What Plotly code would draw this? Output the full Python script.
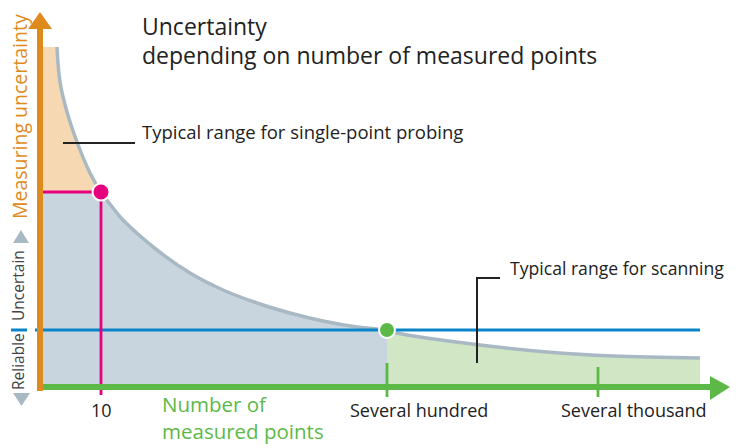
import plotly.graph_objects as go

# ---- data (chart units: x = position along "number of measured points", y = uncertainty level)
curve_x = [17, 20, 27, 37, 50, 61, 77, 83, 117, 150, 183, 217, 250, 283, 317, 347, 357, 440, 507, 573, 660]
curve_y = [340, 305, 275, 245, 214, 195, 174, 167, 137, 114, 97, 84, 74, 66, 60, 57, 54, 42, 35, 31, 29]

probe_point = (61, 195)      # "10" points
scan_point = (347, 57)       # "Several hundred"
reliable_level = 57
tick_positions = [61, 347, 558]
tick_labels = ["10", "Several hundred", "Several thousand"]

ORANGE = "#df8a1d"
GREEN = "#5cb947"
PINK = "#e6007e"
BLUE = "#0a84c8"
CURVE = "#a9b9c4"
FILL_BLUE = "#c9d5de"
FILL_ORANGE = "#f6d8b2"
FILL_GREEN = "#d0e6c5"
TEXT = "#222222"
FONT = "Open Sans"

i_probe = curve_x.index(probe_point[0])
i_scan = curve_x.index(scan_point[0])

fig = go.Figure()

# orange region (single-point probing, above the probe level)
fig.add_shape(type="rect", x0=2, x1=curve_x[0] + 1, y0=probe_point[1], y1=curve_y[0],
              fillcolor=FILL_ORANGE, line_width=0, layer="below")
fig.add_trace(go.Scatter(x=curve_x[:i_probe + 1], y=curve_y[:i_probe + 1], mode="lines",
                         line=dict(width=0, shape="spline"), fill="tozeroy",
                         fillcolor=FILL_ORANGE, hoverinfo="skip"))
# blue-grey region
fig.add_trace(go.Scatter(x=[2, probe_point[0], probe_point[0], 2], y=[0, 0, probe_point[1], probe_point[1]],
                         mode="lines", line=dict(width=0), fill="toself",
                         fillcolor=FILL_BLUE, hoverinfo="skip"))
fig.add_trace(go.Scatter(x=curve_x[i_probe:i_scan + 1], y=curve_y[i_probe:i_scan + 1], mode="lines",
                         line=dict(width=0, shape="spline"), fill="tozeroy",
                         fillcolor=FILL_BLUE, hoverinfo="skip"))
# green region (scanning)
fig.add_trace(go.Scatter(x=curve_x[i_scan:], y=curve_y[i_scan:], mode="lines",
                         line=dict(width=0, shape="spline"), fill="tozeroy",
                         fillcolor=FILL_GREEN, hoverinfo="skip"))

# curve
fig.add_trace(go.Scatter(x=curve_x, y=curve_y, mode="lines",
                         line=dict(color=CURVE, width=3.5, shape="spline"), hoverinfo="skip"))

# reliable level line
fig.add_trace(go.Scatter(x=[-5, 660], y=[reliable_level, reliable_level], mode="lines",
                         line=dict(color=BLUE, width=2.8), hoverinfo="skip"))

# pink guide lines
fig.add_trace(go.Scatter(x=[0, probe_point[0], probe_point[0]], y=[probe_point[1], probe_point[1], -8],
                         mode="lines", line=dict(color=PINK, width=2.8), hoverinfo="skip"))

# green ticks
fig.add_trace(go.Scatter(x=[tick_positions[1], tick_positions[1]], y=[24, -10], mode="lines",
                         line=dict(color=GREEN, width=2.8), hoverinfo="skip"))
fig.add_trace(go.Scatter(x=[tick_positions[2], tick_positions[2]], y=[20, -10], mode="lines",
                         line=dict(color=GREEN, width=2.8), hoverinfo="skip"))

# axes
fig.add_trace(go.Scatter(x=[0, 0], y=[-4, 360], mode="lines", line=dict(color=ORANGE, width=6),
                         hoverinfo="skip"))
fig.add_trace(go.Scatter(x=[-12, 12, 0, -12], y=[358, 358, 375, 358], mode="lines", fill="toself",
                         fillcolor=ORANGE, line=dict(width=0), hoverinfo="skip"))
fig.add_trace(go.Scatter(x=[3, 672], y=[0, 0], mode="lines", line=dict(color=GREEN, width=6),
                         hoverinfo="skip"))
fig.add_trace(go.Scatter(x=[670, 670, 690, 670], y=[11, -13, 0, 11], mode="lines", fill="toself",
                         fillcolor=GREEN, line=dict(width=0), hoverinfo="skip"))

# markers
fig.add_trace(go.Scatter(x=[probe_point[0]], y=[probe_point[1]], mode="markers",
                         marker=dict(color=PINK, size=17, line=dict(color="white", width=2)),
                         hoverinfo="skip"))
fig.add_trace(go.Scatter(x=[scan_point[0]], y=[scan_point[1]], mode="markers",
                         marker=dict(color=GREEN, size=16, line=dict(color="white", width=2)),
                         hoverinfo="skip"))

# leader lines
fig.add_trace(go.Scatter(x=[23, 95], y=[244, 244], mode="lines", line=dict(color=TEXT, width=2),
                         hoverinfo="skip"))
fig.add_trace(go.Scatter(x=[460, 437, 437], y=[109, 109, 24], mode="lines", line=dict(color=TEXT, width=2),
                         hoverinfo="skip"))

# left-side scale: grey triangles and blue mark
fig.add_trace(go.Scatter(x=[-27, -11, -19, -27], y=[144, 144, 157, 144], mode="lines", fill="toself",
                         fillcolor=CURVE, line=dict(width=0), hoverinfo="skip"))
fig.add_trace(go.Scatter(x=[-27, -10, -18.5, -27], y=[-6, -6, -19, -6], mode="lines", fill="toself",
                         fillcolor=CURVE, line=dict(width=0), hoverinfo="skip"))
fig.add_trace(go.Scatter(x=[-29, -13], y=[reliable_level, reliable_level], mode="lines",
                         line=dict(color=BLUE, width=3), hoverinfo="skip"))

anns = []
def txt(x, y, s, size, color=TEXT, xanchor="left", angle=0, yanchor="middle", pad=1):
    anns.append(dict(x=x, y=y, xref="x", yref="y", text=s, showarrow=False, xanchor=xanchor,
                     yanchor=yanchor, textangle=angle, align="left", borderpad=pad,
                     font=dict(family=FONT, size=size, color=color)))

txt(100, 361, "Uncertainty", 23)
txt(100, 332, "depending on number of measured points", 23)
txt(100, 256, "Typical range for single-point probing", 18.5)
txt(468, 119, "Typical range for scanning", 17.6)
txt(tick_positions[0], -23, tick_labels[0], 18, xanchor="center")
txt(379, -23, tick_labels[1], 18, xanchor="center")
txt(594, -23, tick_labels[2], 18, xanchor="center")
txt(120, -60, "Number of<br>measured points", 20.5, color=GREEN, yanchor="bottom")
txt(-21, 270, "Measuring uncertainty", 19.5, color=ORANGE, xanchor="center", angle=-90, pad=0)
txt(-22, 101, "Uncertain", 15.5, color="#444444", xanchor="center", angle=-90)
txt(-22, 25, "Reliable", 15.5, color="#444444", xanchor="center", angle=-90)

# full-window figure; the page body margin is removed after plotting
fig.update_layout(
    width=739, height=448, margin=dict(l=0, r=0, t=0, b=0),
    paper_bgcolor="white", plot_bgcolor="white", showlegend=False,
    xaxis=dict(range=[-40, 699], visible=False, fixedrange=True),
    yaxis=dict(range=[-61, 387], visible=False, fixedrange=True),
    annotations=anns,
)

fig.write_html("out.html", config={"displayModeBar": False, "staticPlot": True},
               post_script="document.body.style.margin='0';document.body.style.overflow='hidden';")
